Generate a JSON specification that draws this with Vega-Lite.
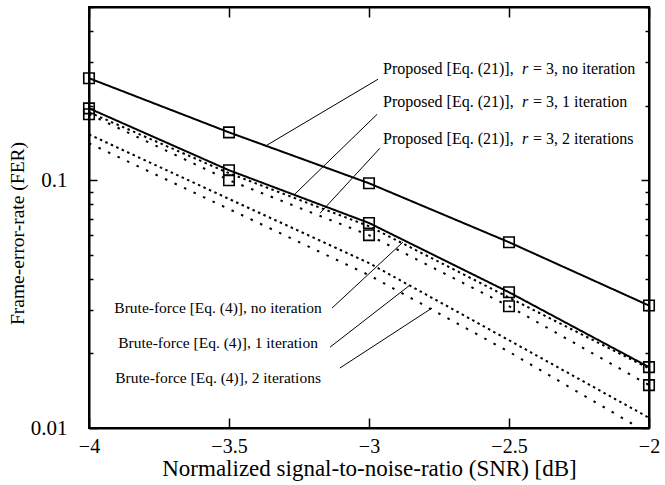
{
  "$schema": "https://vega.github.io/schema/vega-lite/v6.json",
  "width": 560,
  "height": 421,
  "autosize": "none",
  "padding": {"left": 89, "top": 7, "right": 16, "bottom": 57},
  "background": "white",
  "config": {
    "font": "Liberation Serif",
    "view": {"stroke": "black", "strokeWidth": 2},
    "axis": {
      "domainColor": "black", "domainWidth": 2,
      "tickColor": "black", "tickWidth": 1.5,
      "labelColor": "black", "titleColor": "black",
      "labelFont": "Liberation Serif", "titleFont": "Liberation Serif",
      "labelFontSize": 21, "titleFontWeight": "normal",
      "grid": false
    }
  },
  "datasets": {
    "curves": [
      {"curve": "Proposed, no iteration", "snr": -4, "fer": 0.258},
      {"curve": "Proposed, no iteration", "snr": -3.5, "fer": 0.156},
      {"curve": "Proposed, no iteration", "snr": -3, "fer": 0.0972},
      {"curve": "Proposed, no iteration", "snr": -2.5, "fer": 0.0562},
      {"curve": "Proposed, no iteration", "snr": -2, "fer": 0.0312},
      {"curve": "Proposed, 1 iteration", "snr": -4, "fer": 0.195},
      {"curve": "Proposed, 1 iteration", "snr": -3.5, "fer": 0.1097},
      {"curve": "Proposed, 1 iteration", "snr": -3, "fer": 0.0672},
      {"curve": "Proposed, 1 iteration", "snr": -2.5, "fer": 0.0353},
      {"curve": "Proposed, 1 iteration", "snr": -2, "fer": 0.0176},
      {"curve": "Proposed, 2 iterations", "snr": -4, "fer": 0.1846},
      {"curve": "Proposed, 2 iterations", "snr": -3.5, "fer": 0.1},
      {"curve": "Proposed, 2 iterations", "snr": -3, "fer": 0.06},
      {"curve": "Proposed, 2 iterations", "snr": -2.5, "fer": 0.031},
      {"curve": "Proposed, 2 iterations", "snr": -2, "fer": 0.0149},
      {"curve": "Brute-force, no iteration", "snr": -4, "fer": 0.188},
      {"curve": "Brute-force, no iteration", "snr": -3.5, "fer": 0.1067},
      {"curve": "Brute-force, no iteration", "snr": -3, "fer": 0.0652},
      {"curve": "Brute-force, no iteration", "snr": -2.5, "fer": 0.0336},
      {"curve": "Brute-force, no iteration", "snr": -2, "fer": 0.0174},
      {"curve": "Brute-force, 1 iteration", "snr": -4, "fer": 0.153},
      {"curve": "Brute-force, 1 iteration", "snr": -3.5, "fer": 0.084},
      {"curve": "Brute-force, 1 iteration", "snr": -3, "fer": 0.0463},
      {"curve": "Brute-force, 1 iteration", "snr": -2.5, "fer": 0.0226},
      {"curve": "Brute-force, 1 iteration", "snr": -2, "fer": 0.011},
      {"curve": "Brute-force, 2 iterations", "snr": -4, "fer": 0.141},
      {"curve": "Brute-force, 2 iterations", "snr": -3.5, "fer": 0.0765},
      {"curve": "Brute-force, 2 iterations", "snr": -3, "fer": 0.0414},
      {"curve": "Brute-force, 2 iterations", "snr": -2.5, "fer": 0.0203},
      {"curve": "Brute-force, 2 iterations", "snr": -2, "fer": 0.0095}
    ],
    "labels": [
      {"group": "Proposed", "snr": -2.95, "fer": 0.282, "pre": "Proposed [Eq. (21)],", "var": "r", "post": "= 3, no iteration"},
      {"group": "Proposed", "snr": -2.95, "fer": 0.2064, "pre": "Proposed [Eq. (21)],", "var": "r", "post": "= 3, 1 iteration"},
      {"group": "Proposed", "snr": -2.95, "fer": 0.1463, "pre": "Proposed [Eq. (21)],", "var": "r", "post": "= 3, 2 iterations"},
      {"group": "Brute", "snr": -3.539, "fer": 0.03048, "pre": "Brute-force [Eq. (4)], no iteration"},
      {"group": "Brute", "snr": -3.539, "fer": 0.02201, "pre": "Brute-force [Eq. (4)], 1 iteration"},
      {"group": "Brute", "snr": -3.539, "fer": 0.01591, "pre": "Brute-force [Eq. (4)], 2 iterations"}
    ],
    "pointers": [
      {"snr": -2.968, "fer": 0.2555, "snr2": -3.371, "fer2": 0.1371},
      {"snr": -2.971, "fer": 0.1845, "snr2": -3.264, "fer2": 0.0881},
      {"snr": -2.961, "fer": 0.1346, "snr2": -3.175, "fer2": 0.0736},
      {"snr": -3.132, "fer": 0.03048, "snr2": -2.879, "fer2": 0.0562},
      {"snr": -3.139, "fer": 0.0212, "snr2": -2.854, "fer2": 0.0377},
      {"snr": -3.104, "fer": 0.01746, "snr2": -2.775, "fer2": 0.03048}
    ]
  },
  "layer": [
    {
      "data": {"name": "curves"},
      "mark": {"type": "line", "strokeWidth": 2, "clip": true, "color": "black", "strokeCap": "butt"},
      "encoding": {
        "x": {"field": "snr", "type": "quantitative",
          "scale": {"domain": [-4, -2], "nice": false, "zero": false},
          "axis": {"orient": "bottom", "values": [-4, -3.5, -3, -2.5, -2], "tickSize": -10, "labelPadding": 18,
            "labelFontSize": 20,
            "labelExpr": "replace(format(datum.value, '~g'), '-', '\u2212')", "labelFlush": false,
            "title": "Normalized signal-to-noise-ratio (SNR) [dB]", "titleFontSize": 23,
            "titleBaseline": "middle", "titleY": 40, "titleX": 280}},
        "y": {"field": "fer", "type": "quantitative",
          "scale": {"type": "log", "domain": [0.01, 0.5], "nice": false},
          "axis": {"orient": "left",
            "values": [0.01, 0.02, 0.03, 0.04, 0.05, 0.06, 0.07, 0.08, 0.09, 0.1, 0.2, 0.3, 0.4, 0.5],
            "labelExpr": "datum.value == 0.01 ? '0.01' : (datum.value == 0.1 ? '0.1' : '')",
            "tickSize": {"condition": {"test": "datum.value == 0.01 || datum.value == 0.1", "value": -8}, "value": -4},
            "labelPadding": 30, "labelFlush": false,
            "title": "Frame-error-rate (FER)", "titleFontSize": 19.5,
            "titleBaseline": "middle", "titleX": -72, "titleY": 226, "titleAngle": 270}},
        "detail": {"field": "curve"},
        "strokeDash": {"field": "curve", "type": "nominal", "legend": null,
          "scale": {"domain": ["Proposed, no iteration", "Proposed, 1 iteration", "Proposed, 2 iterations", "Brute-force, no iteration", "Brute-force, 1 iteration", "Brute-force, 2 iterations"],
            "range": [[1, 0], [1, 0], [2.5, 8], [2.5, 3.5], [2.5, 3.5], [2.5, 8]]}}
      }
    },
    {
      "data": {"name": "curves"},
      "mark": {"type": "point", "opacity": 0},
      "encoding": {
        "x": {"field": "snr", "type": "quantitative",
          "scale": {"domain": [-4, -2], "nice": false, "zero": false},
          "axis": {"orient": "top", "values": [-4, -3.5, -3, -2.5, -2], "tickSize": -10, "labels": false, "title": null}},
        "y": {"field": "fer", "type": "quantitative",
          "scale": {"type": "log", "domain": [0.01, 0.5], "nice": false},
          "axis": {"orient": "right",
            "values": [0.01, 0.02, 0.03, 0.04, 0.05, 0.06, 0.07, 0.08, 0.09, 0.1, 0.2, 0.3, 0.4, 0.5],
            "tickSize": {"condition": {"test": "datum.value == 0.01 || datum.value == 0.1", "value": -8}, "value": -4},
            "labels": false, "title": null}}
      }
    },
    {
      "data": {"name": "curves"},
      "transform": [{"filter": {"field": "curve", "oneOf": ["Proposed, no iteration", "Proposed, 1 iteration", "Proposed, 2 iterations"]}}],
      "mark": {"type": "point", "shape": "square", "size": 110, "filled": false, "color": "black", "strokeWidth": 1.6, "opacity": 1, "clip": false},
      "encoding": {
        "x": {"field": "snr", "type": "quantitative", "scale": {"domain": [-4, -2], "nice": false, "zero": false}, "axis": null},
        "y": {"field": "fer", "type": "quantitative", "scale": {"type": "log", "domain": [0.01, 0.5], "nice": false}, "axis": null}
      }
    },
    {
      "data": {"name": "pointers"},
      "mark": {"type": "rule", "color": "black", "strokeWidth": 1},
      "encoding": {
        "x": {"field": "snr", "type": "quantitative", "scale": {"domain": [-4, -2], "nice": false, "zero": false}, "axis": null},
        "y": {"field": "fer", "type": "quantitative", "scale": {"type": "log", "domain": [0.01, 0.5], "nice": false}, "axis": null},
        "x2": {"field": "snr2"},
        "y2": {"field": "fer2"}
      }
    },
    {
      "data": {"name": "labels"},
      "transform": [{"filter": "datum.group == 'Brute'"}],
      "mark": {"type": "text", "align": "center", "baseline": "middle", "font": "Liberation Serif", "fontSize": 15.5, "color": "black"},
      "encoding": {
        "x": {"field": "snr", "type": "quantitative", "scale": {"domain": [-4, -2], "nice": false, "zero": false}, "axis": null},
        "y": {"field": "fer", "type": "quantitative", "scale": {"type": "log", "domain": [0.01, 0.5], "nice": false}, "axis": null},
        "text": {"field": "pre"}
      }
    },
    {
      "data": {"name": "labels"},
      "transform": [{"filter": "datum.group == 'Proposed'"}],
      "mark": {"type": "text", "align": "left", "baseline": "middle", "font": "Liberation Serif", "fontSize": 16, "color": "black"},
      "encoding": {
        "x": {"field": "snr", "type": "quantitative", "scale": {"domain": [-4, -2], "nice": false, "zero": false}, "axis": null},
        "y": {"field": "fer", "type": "quantitative", "scale": {"type": "log", "domain": [0.01, 0.5], "nice": false}, "axis": null},
        "text": {"field": "pre"}
      }
    },
    {
      "data": {"name": "labels"},
      "transform": [{"filter": "datum.group == 'Proposed'"}],
      "mark": {"type": "text", "align": "left", "baseline": "middle", "font": "Liberation Serif", "fontSize": 16, "fontStyle": "italic", "color": "black", "dx": 139},
      "encoding": {
        "x": {"field": "snr", "type": "quantitative", "scale": {"domain": [-4, -2], "nice": false, "zero": false}, "axis": null},
        "y": {"field": "fer", "type": "quantitative", "scale": {"type": "log", "domain": [0.01, 0.5], "nice": false}, "axis": null},
        "text": {"field": "var"}
      }
    },
    {
      "data": {"name": "labels"},
      "transform": [{"filter": "datum.group == 'Proposed'"}],
      "mark": {"type": "text", "align": "left", "baseline": "middle", "font": "Liberation Serif", "fontSize": 16, "color": "black", "dx": 150},
      "encoding": {
        "x": {"field": "snr", "type": "quantitative", "scale": {"domain": [-4, -2], "nice": false, "zero": false}, "axis": null},
        "y": {"field": "fer", "type": "quantitative", "scale": {"type": "log", "domain": [0.01, 0.5], "nice": false}, "axis": null},
        "text": {"field": "post"}
      }
    }
  ],
  "resolve": {"axis": {"x": "independent", "y": "independent"}}
}
